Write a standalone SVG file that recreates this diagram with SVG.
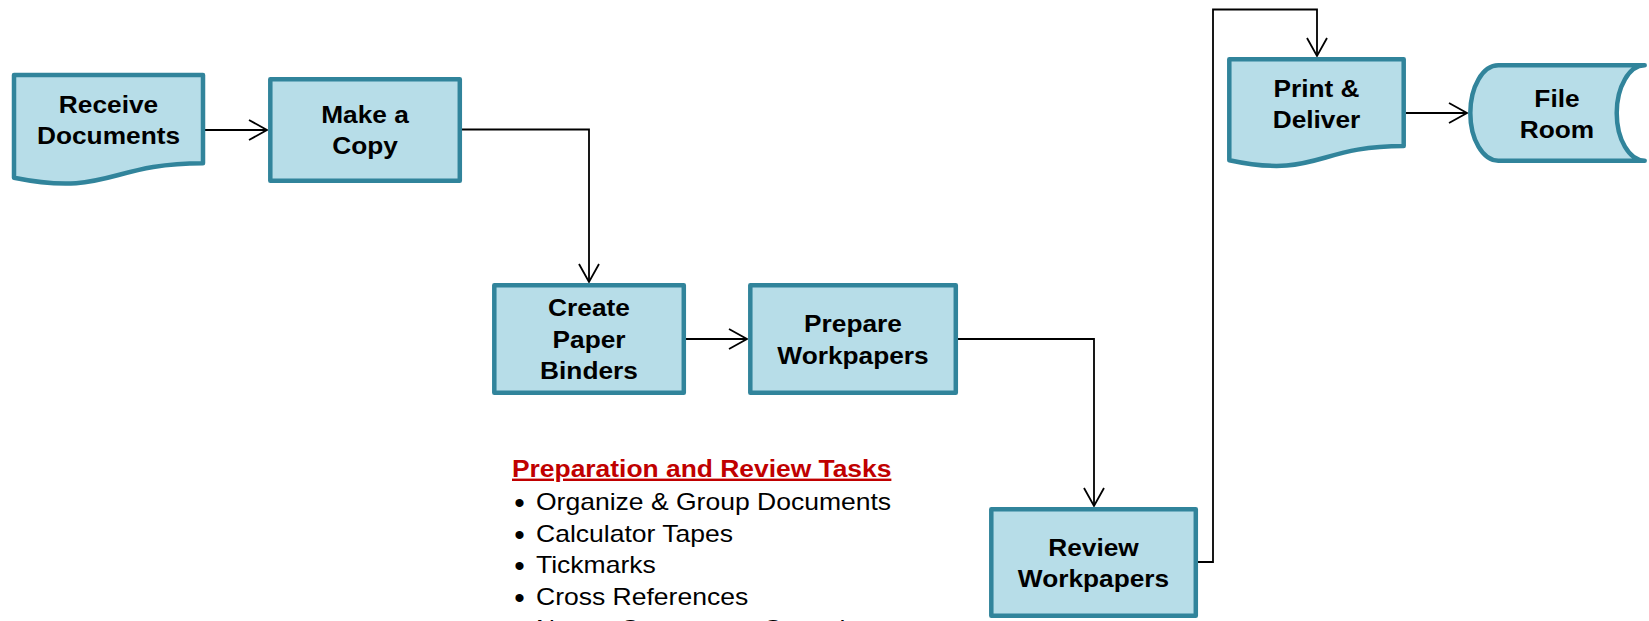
<svg xmlns="http://www.w3.org/2000/svg" width="1649" height="621" viewBox="0 0 1649 621">
<style>
.box{fill:#B7DDE8;stroke:#31849B;stroke-width:4.5;stroke-linejoin:round}
.lbl{font-family:"Liberation Sans",Arial,sans-serif;font-weight:bold;font-size:24px;fill:#000;text-anchor:middle}
.item{font-family:"Liberation Sans",Arial,sans-serif;font-size:24px;fill:#000}
.bul{font-family:"Liberation Sans",Arial,sans-serif;font-size:30px;fill:#000;text-anchor:middle}
.head{font-family:"Liberation Sans",Arial,sans-serif;font-weight:bold;font-size:24px;fill:#C00000;text-decoration:underline}
.conn{fill:none;stroke:#000;stroke-width:1.8;marker-end:url(#arr)}
</style>
<defs>
<marker id="arr" markerUnits="userSpaceOnUse" markerWidth="22" markerHeight="24" refX="18" refY="11" orient="auto" overflow="visible">
<path d="M0,1 L18,11 L0,21" fill="none" stroke="#000" stroke-width="1.8"/>
</marker>
</defs>
<g id="connectors">
<path class="conn" d="M205,130 H267"/>
<path class="conn" d="M462,129.5 H589 V282"/>
<path class="conn" d="M686,339 H747"/>
<path class="conn" d="M958,339 H1094 V506"/>
<path class="conn" d="M1198,562 H1213 V9.5 H1317 V56"/>
<path class="conn" d="M1406,113 H1467"/>
</g>
<g id="receive">
<path class="box" d="M14,75 H203 V163.2 C108.5,163.2 108.5,196.8 14,177.7 Z"/>
<text class="lbl" transform="translate(108.5 0) scale(1.095 1)"><tspan x="0" y="113">Receive</tspan><tspan x="0" y="144">Documents</tspan></text>
</g>
<g id="copy">
<rect class="box" x="270.3" y="79.3" width="189.5" height="101.5"/>
<text class="lbl" transform="translate(365 0) scale(1.095 1)"><tspan x="0" y="123">Make a</tspan><tspan x="0" y="154.5">Copy</tspan></text>
</g>
<g id="create">
<rect class="box" x="494.3" y="285.3" width="189.5" height="107.5"/>
<text class="lbl" transform="translate(589 0) scale(1.095 1)"><tspan x="0" y="316.5">Create</tspan><tspan x="0" y="348">Paper</tspan><tspan x="0" y="379.5">Binders</tspan></text>
</g>
<g id="prepare">
<rect class="box" x="750.3" y="285.3" width="205.5" height="107.5"/>
<text class="lbl" transform="translate(853 0) scale(1.095 1)"><tspan x="0" y="332.5">Prepare</tspan><tspan x="0" y="364">Workpapers</tspan></text>
</g>
<g id="review">
<rect class="box" x="991.3" y="509.3" width="204.5" height="106.5"/>
<text class="lbl" transform="translate(1093.5 0) scale(1.095 1)"><tspan x="0" y="556.5">Review</tspan><tspan x="0" y="587.5">Workpapers</tspan></text>
</g>
<g id="print">
<path class="box" d="M1229.3,59.3 H1403.7 V145.9 C1316.5,145.9 1316.5,178.9 1229.3,160.2 Z"/>
<text class="lbl" transform="translate(1316.5 0) scale(1.095 1)"><tspan x="0" y="96.7">Print &amp;</tspan><tspan x="0" y="128.3">Deliver</tspan></text>
</g>
<g id="fileroom">
<path class="box" d="M1498.3,65.3 H1644.7 A28,47.7 0 0 0 1644.7,160.7 H1498.3 A28,47.7 0 0 1 1498.3,65.3 Z"/>
<text class="lbl" transform="translate(1557 0) scale(1.095 1)"><tspan x="0" y="106.7">File</tspan><tspan x="0" y="138.3">Room</tspan></text>
</g>
<g id="tasks">
<text class="head" transform="translate(512 0) scale(1.1 1)" x="0" y="476.7">Preparation and Review Tasks</text>
<text class="bul" x="519.5" y="513">•</text>
<text class="bul" x="519.5" y="544.7">•</text>
<text class="bul" x="519.5" y="576.3">•</text>
<text class="bul" x="519.5" y="608">•</text>
<text class="bul" x="519.5" y="639.7">•</text>
<text class="item" transform="translate(536 0) scale(1.105 1)"><tspan x="0" y="510">Organize &amp; Group Documents</tspan><tspan x="0" y="541.7">Calculator Tapes</tspan><tspan x="0" y="573.3">Tickmarks</tspan><tspan x="0" y="605">Cross References</tspan><tspan x="0" y="636.7">Notes, Comments, Consult</tspan></text>
</g>
</svg>
